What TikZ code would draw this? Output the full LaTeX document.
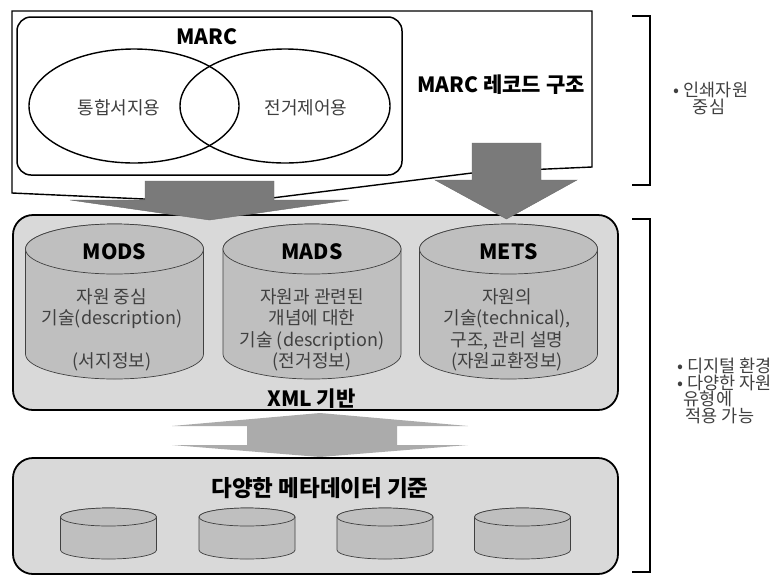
\documentclass[tikz,border=0pt]{standalone}
\usepackage{fontspec}
\setmainfont{Noto Sans CJK KR}
\usetikzlibrary{calc, positioning}
\tikzset{
  panel/.style={
    draw=black, line width=1.8pt, rounded corners=20pt, fill=black!15
  },
  marcbox/.style={
    draw=black, line width=1.5pt, rounded corners=14pt, fill=white
  },
  callout/.style={
    draw=black, line width=1.4pt, fill=white
  },
  setline/.style={
    draw=black, line width=1.4pt
  },
  drum/.style={
    draw=black!75, line width=0.7pt, fill=black!25
  },
  blockarrow/.style={
    fill=black!52, draw=black!58, line width=0.4pt
  },
  twoway/.style={
    fill=black!33
  },
  bracket/.style={
    draw=black, line width=2pt
  },
  title/.style={
    font=\fontsize{21}{24}\selectfont\bfseries, inner sep=0pt
  },
  body/.style={
    font=\fontsize{18}{21.5}\selectfont, text=black!75, align=center, inner sep=0pt
  },
  note/.style={
    font=\fontsize{17.5}{17}\selectfont, text=black!75, inner sep=0pt
  }
}
% cylinder: centre x, centre y of the top, half width, body height, y radius
\newcommand{\dbdrum}[5]{%
  \filldraw[drum] ({#1-#3},#2) -- ++(0,#4)
    arc[start angle=180, end angle=0, x radius=#3, y radius=#5] -- ++(0,-#4)
    arc[start angle=0, end angle=-180, x radius=#3, y radius=#5] -- cycle;
  \draw[drum] (#1,#2) ellipse[x radius=#3, y radius=#5];
}

\begin{document}
\begin{tikzpicture}[x=1pt, y=-1pt]
    \useasboundingbox (0,0) rectangle (775,576);

    % MARC record structure (callout)
    \path[callout] (12,11) -- (592,11) -- (592,167) -- (480,172)
      -- (232,203) -- (12,193) -- cycle;
    \path[marcbox] (17,17) rectangle (402,175);
    \node[title] (marc) at (207,37) {MARC};
    \draw[setline] (134,106) ellipse[x radius=105, y radius=57];
    \draw[setline] (285,106) ellipse[x radius=105, y radius=57];
    \node[body] (biblio) at (119,108) {통합서지용};
    \node[body] (auth) at (306,108) {전거제어용};
    \node[title] (record) at (501,85) {MARC 레코드 구조};

    % XML block
    \path[panel] (13,215) rectangle (618,410);
    \dbdrum{114.5}{249}{89}{105}{25}
    \dbdrum{312}{249}{89}{105}{25}
    \dbdrum{508.5}{249}{89}{105}{25}
    \node[title] (mods) at (114.5,252) {MODS};
    \node[title] (mads) at (312,252) {MADS};
    \node[title] (mets) at (508.5,252) {METS};
    \node[body] (modstext) at (112,330)
      {자원 중심\\기술(description)\\[21.5pt](서지정보)};
    \node[body] (madstext) at (312,330)
      {자원과 관련된\\개념에 대한\\기술 (description)\\(전거정보)};
    \node[body] (metstext) at (507,330)
      {자원의\\기술(technical),\\구조, 관리 설명\\(자원교환정보)};
    \node[title] (xml) at (311.5,399) {XML 기반};

    % Arrows from MARC
    \path[blockarrow] (145,181) -- (274,181) -- (274,200) -- (349,200)
      -- (209.5,220) -- (70,200) -- (145,200) -- cycle;
    \path[blockarrow] (472,143) -- (541,143) -- (541,180) -- (577,180)
      -- (506.5,219) -- (435,180) -- (472,180) -- cycle;

    % Two-way arrow
    \path[twoway] (247,426) -- (172,426) -- (320,413) -- (468,426)
      -- (397,426) -- (397,445) -- (468,445) -- (320,457) -- (172,445)
      -- (247,445) -- cycle;

    % Other metadata standards
    \path[panel] (13,458) rectangle (618,574);
    \node[title, font=\fontsize{22.5}{24}\selectfont\bfseries] (standards) at (320,488)
      {다양한 메타데이터 기준};
    \dbdrum{108.5}{517}{48}{33}{9}
    \dbdrum{247}{517}{48}{33}{9}
    \dbdrum{385}{517}{48}{33}{9}
    \dbdrum{522.5}{517}{48}{33}{9}

    % Brackets and notes
    \draw[bracket] (632,16) -- (650,16) -- (650,185) -- (632,185);
    \draw[bracket] (632,219) -- (650,219) -- (650,572) -- (632,572);
    \node[note] (print) at (711,90) {• 인쇄자원};
    \node[note] (printb) at (709,107) {중심};
    \node[note] (digital) at (724.5,366) {• 디지털 환경};
    \node[note] (various) at (724.5,383) {• 다양한 자원};
    \node[note] (variousb) at (708,399) {유형에};
    \node[note] (variousc) at (720,416) {적용 가능};
\end{tikzpicture}
\end{document}
